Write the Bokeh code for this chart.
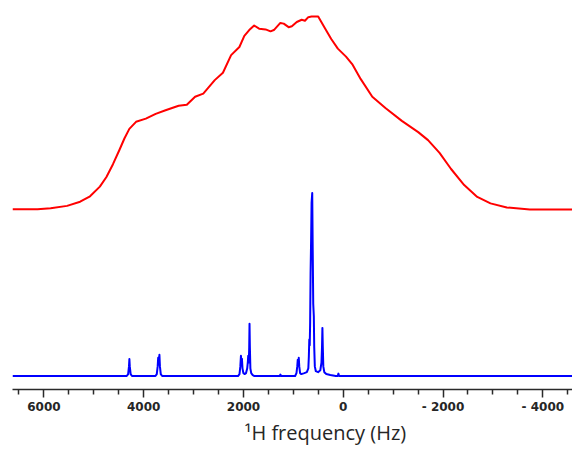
from bokeh.plotting import figure
from bokeh.models import Range1d, FixedTicker, Title
from bokeh.embed import file_html
from bokeh.resources import INLINE

# ---- data (x in Hz, intensities in arbitrary units) ----
red_hz = [6630, 6128, 5866, 5536, 5274, 5076, 4879, 4747, 4616, 4485, 4387, 4288,
          4154, 3957, 3760, 3562, 3300, 3136, 2970, 2806, 2576, 2412, 2248, 2082,
          1983, 1885, 1786, 1687, 1557, 1458, 1391, 1261, 1194, 1095, 1030, 932,
          833, 768, 701, 636, 503, 373, 241, 109, -55, -187, -351, -582, -845,
          -1174, -1502, -1699, -1930, -2161, -2424, -2686, -2951, -3278, -3740, -4595]
red_int = [0.3, 0.3, 1.3, 3.7, 8, 13.7, 23.7, 33.7, 47, 62, 73.7, 83.7,
           91, 94.3, 99.3, 103, 107.7, 108.7, 117, 120.3, 134.3, 142, 160.3, 168.7,
           180.3, 186.3, 191, 187.7, 187, 185, 186.3, 193.7, 193, 189.3, 190.3, 194.7,
           197, 196, 199.7, 200.3, 200.3, 188.7, 177, 167, 158.7, 150.3, 135.3, 117, 105.3,
           92, 80.3, 72, 58.7, 42, 25.3, 13, 6.3, 2, 0, 0]

blue_hz = [6630, 4340, 4312, 4295, 4287, 4279, 4262, 4235,
           3765, 3738, 3720, 3710, 3698, 3685, 3675, 3658, 3630,
           2110, 2080, 2063, 2051, 2041, 2031, 2020, 2002, 1978, 1950, 1925, 1912,
           1905, 1893, 1885, 1879, 1872, 1862, 1845, 1815, 1780,
           1275, 1261, 1245,
           965, 938, 922, 912, 902, 892, 882, 865, 840,
           780, 730, 700, 690, 681, 672, 664, 655, 645, 635, 622, 612, 602, 590,
           582, 570, 550, 505, 460, 437, 426, 418, 410, 400, 380, 340, 260, 150,
           110, 97, 84, -4595]
blue_int = [0, 0, 2, 10, 17.7, 10, 2, 0,
            0, 2, 10, 19, 12, 22, 10, 2, 0,
            0, 2, 10, 21, 14, 18, 8, 3, 2, 3, 8, 15,
            21, 14, 30, 54.3, 30, 8, 3, 1, 0,
            0, 1.5, 0,
            0, 3, 10, 17, 12, 19, 10, 3, 2,
            3, 4, 8, 20, 38, 32, 55, 107, 140, 180, 190, 130, 75, 62,
            30, 10, 5, 4, 6, 14, 30, 50, 30, 10, 4, 2, 1, 0,
            0, 2.5, 0, 0]

major_ticks = [6000, 4000, 2000, 0, -2000, -4000]
minor_ticks = [6500, 5500, 5000, 4500, 3500, 3000, 2500, 1500, 1000, 500,
               -500, -1000, -1500, -2500, -3000, -3500, -4500]
tick_labels = {6000: "6000", 4000: "4000", 2000: "2000", 0: "0",
               -2000: "- 2000", -4000: "- 4000"}
x_label = "¹H frequency (Hz)"

RED_OFFSET = 173  # stacking offset of the upper (red) trace

p = figure(width=572, height=445,
           x_range=Range1d(6630, -4595), y_range=Range1d(-14, 390),
           output_backend="svg", toolbar_location=None, y_axis_location=None,
           min_border_left=12, min_border_right=0, min_border_top=0,
           min_border_bottom=55)
p.outline_line_color = None
p.grid.visible = False
p.background_fill_color = "white"

p.line(blue_hz, blue_int, line_color="#0000FF", line_width=2, line_join="round")
p.line(red_hz, [v + RED_OFFSET for v in red_int], line_color="#FF0000",
       line_width=2, line_join="round")

ax = p.xaxis[0]
ax.ticker = FixedTicker(ticks=major_ticks, minor_ticks=minor_ticks)
ax.major_label_overrides = tick_labels
ax.axis_line_color = "#2a2a2a"
ax.axis_line_width = 1.5
ax.major_tick_line_color = "#2a2a2a"
ax.major_tick_line_width = 1.5
ax.minor_tick_line_color = "#2a2a2a"
ax.minor_tick_line_width = 1.5
ax.major_tick_in = 0
ax.major_tick_out = 8
ax.minor_tick_in = 0
ax.minor_tick_out = 5
ax.major_label_standoff = 2
ax.major_label_text_font = "DejaVu Sans"
ax.major_label_text_font_style = "bold"
ax.major_label_text_font_size = "12px"
ax.major_label_text_color = "#262626"

t = Title(text=x_label, align="left", offset=232, standoff=0,
          text_font="Open Sans", text_font_size="20px",
          text_font_style="normal", text_color="#262626")
p.add_layout(t, "below")

open("out.html", "w").write(file_html(p, INLINE))
